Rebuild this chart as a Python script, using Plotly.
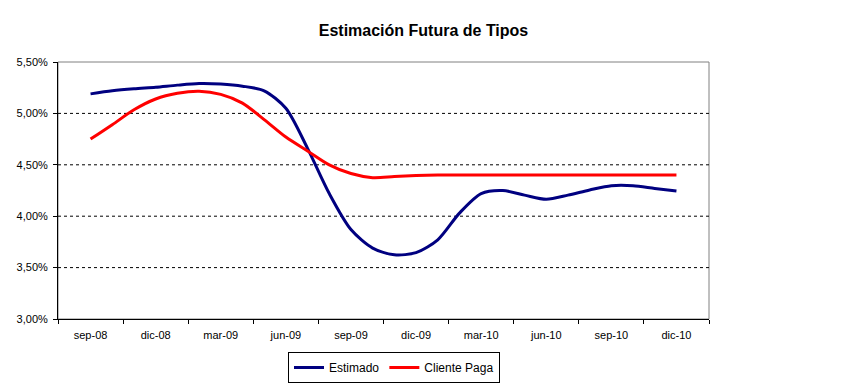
import plotly.graph_objects as go

months = list(range(28))  # sep-08 .. dic-10, monthly index
tick_labels = ["sep-08", "dic-08", "mar-09", "jun-09", "sep-09", "dic-09",
               "mar-10", "jun-10", "sep-10", "dic-10"]
tick_positions = [0, 3, 6, 9, 12, 15, 18, 21, 24, 27]

estimado = [5.19, 5.22, 5.24, 5.255, 5.275, 5.29, 5.285, 5.265, 5.22, 5.05,
            4.66, 4.22, 3.87, 3.69, 3.625, 3.645, 3.77, 4.03, 4.22, 4.25,
            4.205, 4.165, 4.205, 4.255, 4.297, 4.297, 4.27, 4.245]
cliente = [4.75, 4.89, 5.035, 5.14, 5.195, 5.215, 5.185, 5.1, 4.94, 4.77,
           4.635, 4.5, 4.415, 4.375, 4.385, 4.395, 4.40, 4.40, 4.40, 4.40,
           4.40, 4.40, 4.40, 4.40, 4.40, 4.40, 4.40, 4.40]

y_ticks = [3.0, 3.5, 4.0, 4.5, 5.0, 5.5]
y_labels = ["3,00%", "3,50%", "4,00%", "4,50%", "5,00%", "5,50%"]
grid_vals = [3.5, 4.0, 4.5, 5.0]

fig = go.Figure()
fig.add_trace(go.Scatter(x=months, y=estimado, mode="lines", name="Estimado",
                         line=dict(color="#000080", width=3, shape="spline", smoothing=0.8)))
fig.add_trace(go.Scatter(x=months, y=cliente, mode="lines", name="Cliente Paga",
                         line=dict(color="#FF0000", width=3, shape="spline", smoothing=0.8)))

shapes = [dict(type="rect", xref="paper", yref="paper", x0=0, x1=1, y0=0, y1=1,
               line=dict(color="#808080", width=1), layer="below")]
for g in grid_vals:
    shapes.append(dict(type="line", xref="paper", yref="y", x0=0, x1=1, y0=g, y1=g,
                       line=dict(color="black", width=1, dash="3px,3px"), layer="below"))

# page body has an 8px margin, so the figure is drawn 8px right/down
W, H = 834, 378
L, R, T, B = 50, 133, 54, 67
fig.update_layout(
    width=W, height=H,
    margin=dict(l=L, r=R, t=T, b=B, autoexpand=False),
    paper_bgcolor="white", plot_bgcolor="white",
    font=dict(family="Liberation Sans, Arial, sans-serif", size=11, color="black"),
    title=dict(text="<b>Estimación Futura de Tipos</b>", xref="container", x=(423.5 - 8) / W,
               yref="container", y=1 - 22 / H, yanchor="middle", xanchor="center",
               font=dict(size=16, color="black")),
    showlegend=True,
    legend=dict(orientation="h", xref="container", x=386 / W, xanchor="center",
                yref="container", y=1 - 359.5 / H, yanchor="middle",
                bordercolor="black", borderwidth=1, bgcolor="white",
                font=dict(size=12), itemwidth=30, tracegroupgap=0),
    shapes=shapes,
)
fig.update_xaxes(range=[-1.5, 28.5], tickvals=tick_positions, ticktext=tick_labels,
                 ticks="", showgrid=False, showline=True, linecolor="black", linewidth=1,
                 zeroline=False, ticklabelstandoff=6, automargin=False,
                 minor=dict(tick0=-1.5, dtick=3, ticks="outside", ticklen=4,
                            tickcolor="black", showgrid=False))
fig.update_yaxes(range=[3.0, 5.5], tickvals=y_ticks, ticktext=y_labels,
                 ticks="outside", ticklen=4, tickcolor="black", showgrid=False,
                 showline=True, linecolor="black", linewidth=1, zeroline=False,
                 ticklabelstandoff=3, automargin=False)

fig.write_html("out.html")
